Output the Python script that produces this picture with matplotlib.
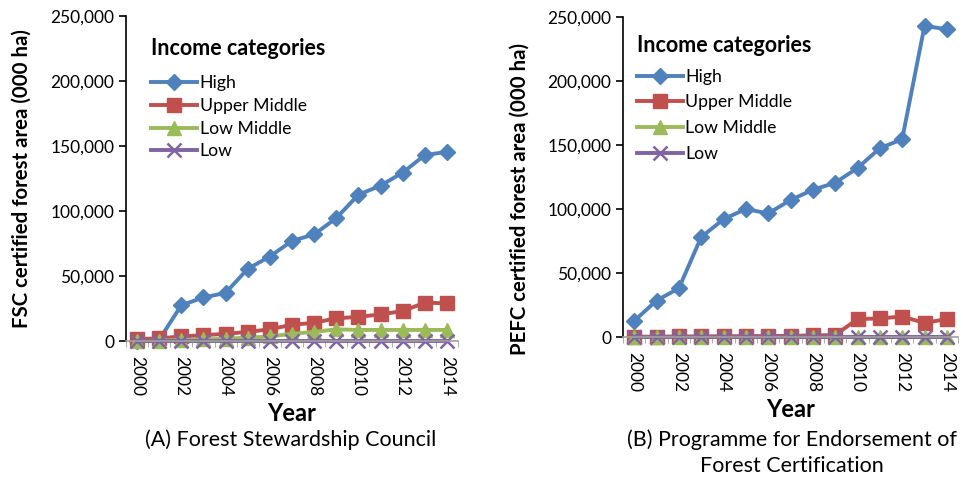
import numpy as np
import matplotlib
matplotlib.use("Agg")
import matplotlib.pyplot as plt
from matplotlib.ticker import FuncFormatter

plt.rcParams['font.family'] = ['Lato', 'DejaVu Sans']

years = list(range(2000, 2015))
year_labels = [str(y) if y % 2 == 0 else '' for y in years]

# FSC (panel A), 000 ha
fsc_high = [0, 1000, 27500, 33500, 37000, 55500, 65000, 77000, 82000, 94500, 112500, 119500, 129500, 143000, 145500]
fsc_upper = [1500, 2000, 3500, 4500, 5500, 7000, 9000, 12500, 14000, 17500, 18500, 20500, 23000, 29500, 29000]
fsc_lowmid = [0, 300, 800, 1200, 1800, 2500, 3500, 5500, 7000, 9000, 8500, 8500, 8500, 8500, 8500]
fsc_low = [0] * 15

# PEFC (panel B), 000 ha
pefc_high = [12500, 28500, 38000, 78000, 92000, 100000, 96500, 107000, 115000, 120500, 132000, 147500, 154500, 243000, 240500]
pefc_upper = [200, 300, 400, 500, 600, 700, 800, 900, 1200, 1500, 14000, 14500, 16000, 11000, 14000]
pefc_lowmid = [0] * 15
pefc_low = [0] * 15

names = ['High', 'Upper Middle', 'Low Middle', 'Low']
colors = ['#4F81BD', '#C0504D', '#9BBB59', '#8064A2']
markers = ['D', 's', '^', 'x']
msizes = [8, 10, 10, 10]

fig = plt.figure(figsize=(9.63, 4.8), dpi=100)
ax1 = fig.add_axes([126 / 963, 1 - 341 / 480, 332 / 963, 325 / 480])
ax2 = fig.add_axes([623 / 963, 1 - 337 / 480, 335 / 963, 320 / 480])

# (axes, series, y label, legend anchor, row spacing, title gap, label x, label y)
panels = [
    (ax1, [fsc_high, fsc_upper, fsc_lowmid, fsc_low], 'FSC certified forest area (000 ha)',
     (0.055, 0.955), 0.38, 12, -0.285, 0.5),
    (ax2, [pefc_high, pefc_upper, pefc_lowmid, pefc_low], 'PEFC certified forest area (000 ha)',
     (0.02, 0.965), 0.55, 9, -0.28, 0.43),
]

x = np.arange(len(years))
for ax, series, ylab, legpos, lsp, tgap, lx, ly in panels:
    for vals, name, c, m, ms in zip(series, names, colors, markers, msizes):
        ax.plot(x, vals, color=c, lw=2.8, marker=m, ms=ms, mew=1.8 if m == 'x' else 1,
                mec=c, mfc=c, label=name, clip_on=False)
    ax.set_xlim(-0.5, len(years) - 0.5)
    ax.set_ylim(0, 250000)
    ax.set_yticks(np.arange(0, 250001, 50000))
    ax.yaxis.set_major_formatter(FuncFormatter(lambda v, p: f'{int(v):,}'))
    ax.set_xticks(x)
    ax.set_xticklabels(year_labels, rotation=-90, fontsize=12.5)
    ax.set_xticks(np.arange(-0.5, len(years), 1), minor=True)
    ax.tick_params(axis='x', which='major', length=0, pad=11)
    ax.tick_params(axis='x', which='minor', length=4, color='#A0A0A0', direction='out')
    ax.tick_params(axis='y', labelsize=12.5, length=5, width=1.2, direction='out')
    for s in ['top', 'right']:
        ax.spines[s].set_visible(False)
    ax.spines['left'].set_linewidth(1.2)
    ax.spines['bottom'].set_color('#A0A0A0')
    ax.spines['bottom'].set_linewidth(1.2)
    ax.set_ylabel(ylab, fontsize=14.7, fontweight='bold')
    ax.yaxis.set_label_coords(lx, ly)
    ax.set_xlabel('Year', fontsize=17, fontweight='bold', labelpad=4)
    leg = ax.legend(loc='upper left', bbox_to_anchor=legpos, frameon=False,
                    title='Income categories', title_fontproperties={'weight': 'bold', 'size': 15.5},
                    fontsize=12.7, handlelength=2.6, handletextpad=0.15, labelspacing=lsp,
                    alignment='left', borderaxespad=0)
    leg._legend_box.sep = tgap

fig.text(291 / 963, 1 - 440 / 480, '(A) Forest Stewardship Council',
         ha='center', va='center', fontsize=15.5)
fig.text(792 / 963, 1 - 453 / 480, '(B) Programme for Endorsement of\nForest Certification',
         ha='center', va='center', fontsize=15.5, linespacing=1.35)

fig.savefig('out.png', dpi=100)
